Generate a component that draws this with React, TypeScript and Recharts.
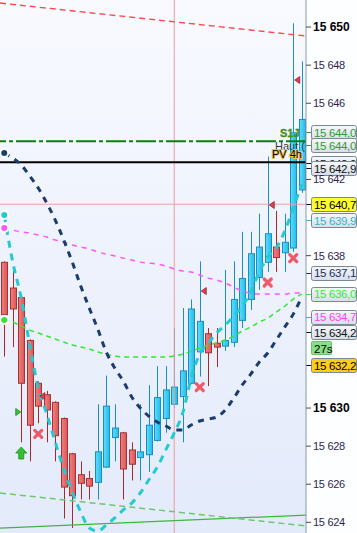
import React from 'react';
import { ComposedChart, Bar, Line, XAxis, YAxis, ReferenceLine, ReferenceDot, CartesianGrid } from 'recharts';

const W = 357;
const H = 533;
const FONT = '"Liberation Sans", Arial, sans-serif';

// candles, oldest first
const opens = [
  15637.65, 15636.3, 15635.8, 15633.55, 15631.3, 15630.7, 15630.3, 15629.45, 15627.6, 15626.5,
  15626.3, 15626.1, 15626.9, 15628.45, 15628.7, 15627.8, 15627.4, 15627.55, 15628.3, 15629.45,
  15630.2, 15630.6, 15631.3, 15632.95, 15633.9, 15633.4, 15633.25, 15633.45, 15634.6, 15635.7,
  15636.85, 15637.65, 15638.45, 15638.15, 15638.4, 15641.45,
];
const highs = [
  15637.7, 15637.2, 15635.85, 15633.6, 15631.4, 15630.9, 15630.35, 15629.5, 15627.65, 15627.2,
  15626.7, 15630.2, 15631.7, 15630.2, 15628.75, 15628.2, 15630.2, 15631.2, 15632.2, 15632.2,
  15634.2, 15635.25, 15635.7, 15637.7, 15634.2, 15634.2, 15637.25, 15637.7, 15639.25, 15639.25,
  15640.2, 15643.2, 15640.35, 15640.2, 15650.2, 15648.2,
];
const lows = [
  15632.7, 15633.2, 15628.2, 15627.2, 15629.2, 15628.2, 15627.2, 15624.2, 15623.7, 15625.2,
  15625.2, 15625.2, 15626.85, 15627.2, 15625.2, 15626.2, 15626.2, 15626.65, 15628.25, 15628.7,
  15630.0, 15628.2, 15631.25, 15631.65, 15631.15, 15632.15, 15633.0, 15633.2, 15634.2, 15635.15,
  15636.2, 15637.15, 15637.15, 15637.15, 15638.2, 15641.3,
];
const closes = [
  15634.9, 15635.2, 15631.3, 15629.1, 15630.1, 15629.9, 15628.55, 15625.85, 15625.4, 15626.05,
  15625.9, 15627.7, 15630.1, 15628.95, 15626.8, 15627.05, 15627.7, 15629.1, 15630.55, 15630.95,
  15631.1, 15631.95, 15635.2, 15634.55, 15632.9, 15633.2, 15633.55, 15635.7, 15636.8, 15638.1,
  15638.45, 15639.15, 15637.9, 15638.7, 15644.45, 15645.15,
];

// moving averages
const maNavy = [
  15643.39, 15643.12, 15642.76, 15642.18, 15641.55, 15640.76, 15639.87, 15638.82, 15637.66, 15636.4,
  15635.25, 15634.15, 15632.94, 15632.1, 15631.42, 15630.58, 15630.0, 15629.58, 15629.27, 15629.06,
  15628.85, 15628.85, 15629.11, 15629.32, 15629.42, 15629.53, 15629.9, 15630.52, 15631.21, 15631.78,
  15632.41, 15632.89, 15633.57, 15634.25, 15634.93, 15635.83,
];
const maCyan = [
  15640.13, 15637.66, 15635.77, 15633.31, 15631.05, 15629.69, 15628.21, 15626.8, 15625.59, 15624.54,
  15623.7, 15623.54, 15623.86, 15624.23, 15624.65, 15625.01, 15625.54, 15626.22, 15626.9, 15627.8,
  15628.69, 15629.74, 15631.57, 15632.84, 15633.41, 15633.94, 15634.36, 15634.83, 15635.35, 15636.09,
  15637.14, 15637.93, 15638.4, 15639.29, 15640.5, 15641.76,
];
const maMagenta = [
  15639.45, 15639.34, 15639.24, 15639.19, 15639.08, 15638.98, 15638.82, 15638.71, 15638.56, 15638.45,
  15638.35, 15638.19, 15638.08, 15637.98, 15637.87, 15637.77, 15637.66, 15637.61, 15637.56, 15637.45,
  15637.3, 15637.19, 15637.14, 15636.98, 15636.82, 15636.72, 15636.56, 15636.35, 15636.14, 15636.04,
  15635.98, 15635.98, 15635.98, 15635.98, 15636.04, 15636.04,
];
const maLime = [
  15634.62, 15634.51, 15634.3, 15634.09, 15633.94, 15633.78, 15633.62, 15633.46, 15633.31, 15633.2,
  15633.1, 15632.94, 15632.83, 15632.73, 15632.68, 15632.68, 15632.68, 15632.68, 15632.68, 15632.68,
  15632.73, 15632.83, 15632.99, 15633.15, 15633.31, 15633.41, 15633.57, 15633.78, 15634.04, 15634.25,
  15634.51, 15634.72, 15635.04, 15635.35, 15635.72, 15635.98,
];

const yTicks = [15624, 15626, 15628, 15630, 15638, 15642, 15646, 15648, 15650];
const boldTicks = [15630, 15650];

const levelS1 = 15644.0;
const levelPv = 15642.9;
const levelLast = 15640.7;
const sessionStart = 20;
const redTrend = [15651.26, 15649.53];
const greenTrend = [15623.7, 15624.38];
const greenDashTrend = [15625.54, 15623.81];

const crosses = [
  { i: 4, p: 15628.64 },
  { i: 23, p: 15631.1 },
  { i: 31, p: 15636.59 },
  { i: 34, p: 15637.87 },
];
const sellFlags = [
  { i: 4, p: 15630.63 },
  { i: 23, p: 15636.14 },
  { i: 31, p: 15640.66 },
  { i: 34, p: 15647.22 },
];
const buyFlags = [{ i: 2, p: 15629.79 }];
const buyArrows = [{ i: 2, p: 15627.64 }];

const priceTags = [
  { v: 15644.0, text: '15 644,0' },
  { v: 15644.0, text: '15 644,0' },
  { v: 15642.9, text: '15 642,9' },
  { v: 15642.9, text: '15 642,9' },
  { v: 15640.7, text: '15 640,7' },
  { v: 15639.9, text: '15 639,9' },
  { v: 15637.1, text: '15 637,1' },
  { v: 15636.0, text: '15 636,0' },
  { v: 15634.7, text: '15 634,7' },
  { v: 15634.2, text: '15 634,2' },
  { v: 15632.2, text: '15 632,2' },
];
const countdown = '27s';

// per-tag look: text colour, background, shift in px
const tagStyles = [
  { color: '#2f9e2f', bg: 'url(#tagBg)', dy: -9 },
  { color: '#2f9e2f', bg: 'url(#tagBg)', dy: 4 },
  { color: '#111', bg: 'url(#tagBg)', dy: 1 },
  { color: '#111', bg: 'url(#tagBg)', dy: 6 },
  { color: '#000', bg: '#ffff2e', dy: 0, tick: '#000' },
  { color: '#3ab3c9', bg: 'url(#tagBg)', dy: 1 },
  { color: '#1d2f5c', bg: 'url(#tagBg)', dy: 0 },
  { color: '#2cf02c', bg: 'url(#tagBg)', dy: 0 },
  { color: '#ff40ff', bg: 'url(#tagBg)', dy: -2 },
  { color: '#111', bg: 'url(#tagBg)', dy: 4 },
  { color: '#000', bg: '#ffcc1a', dy: -1, tick: '#000' },
];

const data = opens.map((o, i) => ({
  i,
  open: o,
  high: highs[i],
  low: lows[i],
  close: closes[i],
  navy: maNavy[i],
  cyan: maCyan[i],
  magenta: maMagenta[i],
  lime: maLime[i],
}));

const fmtTick = (v: number) => String(v).replace(/^(\d{2})(\d{3})$/, '$1 $2');

const Candle = (props: any) => {
  const { x, y, width, height, payload } = props;
  const { open, close, high, low } = payload;
  const up = close >= open;
  const top = Math.min(y, y + height);
  const h = Math.abs(height);
  const k = h / (high - low);
  const yOf = (v: number) => top + (high - v) * k;
  const wx = Math.floor(x + width / 2) + 0.5;
  const bTop = yOf(Math.max(open, close));
  const bBot = yOf(Math.min(open, close));
  const bx = Math.round(x) + 0.5;
  return (
    <g>
      <line x1={wx} x2={wx} y1={top} y2={top + h} stroke={up ? '#1a8ec4' : '#a52a2a'} strokeWidth={1} />
      <rect
        x={bx}
        y={bTop}
        width={width - 1}
        height={Math.max(1, bBot - bTop)}
        fill={up ? 'url(#upBody)' : 'url(#downBody)'}
        stroke={up ? '#1a8ec4' : '#a83232'}
        strokeWidth={1}
      />
    </g>
  );
};

const PriceTick = ({ x, y, payload }: any) => {
  const bold = boldTicks.includes(payload.value);
  return (
    <text
      x={x}
      y={y}
      dy={4}
      fontFamily={FONT}
      fontSize={bold ? 12 : 11}
      fontWeight={bold ? 700 : 400}
      letterSpacing={bold ? 0 : -0.3}
      fill={bold ? '#000' : '#2e1f4f'}
    >
      {fmtTick(payload.value)}
    </text>
  );
};

const tagLabel = (idx: number) => (props: any) => {
  const vb = props.viewBox || {};
  const st = tagStyles[idx];
  const tag = priceTags[idx];
  const x0 = vb.x + vb.width;
  const yy = vb.y + st.dy;
  return (
    <g>
      <line x1={x0} x2={x0 + 5} y1={Math.round(yy) + 0.5} y2={Math.round(yy) + 0.5} stroke={st.tick || st.color} />
      <rect x={x0 + 5.5} y={Math.round(yy) - 6.5} width={45} height={14} rx={2} fill={st.bg} stroke="#7b8794" />
      <text x={x0 + 8} y={yy + 4.5} fontFamily={FONT} fontSize={11.5} letterSpacing={-0.35} fill={st.color}>
        {tag.text}
      </text>
      {idx === 9 && (
        <g>
          <rect x={x0 + 5.5} y={Math.round(yy) + 9.5} width={20} height={13} rx={1} fill="#86e086" stroke="#6cbf6c" />
          <text x={x0 + 8} y={yy + 20.5} fontFamily={FONT} fontSize={11.5} fill="#000">
            {countdown}
          </text>
        </g>
      )}
    </g>
  );
};

const s1Label = (props: any) => {
  const vb = props.viewBox || {};
  const xr = vb.x + vb.width;
  return (
    <text x={xr - 26} y={vb.y - 4} fontFamily={FONT} fontSize={11} fontWeight={700} fill="#4f9f12" stroke="#2f6f0a" strokeWidth={0.3}>
      S1J
    </text>
  );
};

const pvLabel = (props: any) => {
  const vb = props.viewBox || {};
  const xr = vb.x + vb.width;
  return (
    <g fontFamily={FONT} fontSize={11}>
      <text x={xr - 31} y={vb.y - 12} fill="#3a3a3a">
        Haut (
      </text>
      <text x={xr - 34} y={vb.y - 4} fill="#000" stroke="#f0c050" strokeWidth={2} paintOrder="stroke">
        PV 4h
      </text>
    </g>
  );
};

const Cross = ({ cx, cy }: any) => (
  <g stroke="#f05a68" strokeWidth={3.2} strokeLinecap="round">
    <line x1={cx - 3.5} y1={cy - 3.5} x2={cx + 3.5} y2={cy + 3.5} />
    <line x1={cx - 3.5} y1={cy + 3.5} x2={cx + 3.5} y2={cy - 3.5} />
  </g>
);

const SellFlag = ({ cx, cy }: any) => (
  <path d={`M${cx + 1.5},${cy} L${cx + 6.5},${cy - 3.5} L${cx + 6.5},${cy + 3.5} Z`} fill="#e0404a" stroke="#a02030" strokeWidth={0.8} />
);

const BuyFlag = ({ cx, cy }: any) => (
  <path d={`M${cx - 0.5},${cy} L${cx - 5.5},${cy - 3.5} L${cx - 5.5},${cy + 3.5} Z`} fill="#33cc33" stroke="#208020" strokeWidth={0.8} />
);

const BuyArrow = ({ cx, cy }: any) => (
  <path
    d={`M${cx},${cy - 6} L${cx + 5.5},${cy} L${cx + 2.5},${cy} L${cx + 2.5},${cy + 6} L${cx - 2.5},${cy + 6} L${cx - 2.5},${cy} L${cx - 5.5},${cy} Z`}
    fill="#33c033"
    stroke="#1f8a1f"
    strokeWidth={0.8}
  />
);

export default function App() {
  return (
    <div style={{ position: 'absolute', left: 0, top: 0, width: W, height: H, background: '#fdfeff' }}>
      <ComposedChart width={W} height={H} data={data} margin={{ top: 0, right: 0, bottom: 0, left: 0 }}>
        <defs>
          <linearGradient id="plotBg" x1="0" y1="0" x2="0" y2="1">
            <stop offset="0%" stopColor="#f8faff" />
            <stop offset="100%" stopColor="#e3eafa" />
          </linearGradient>
          <linearGradient id="tagBg" x1="0" y1="0" x2="0" y2="1">
            <stop offset="0%" stopColor="#f6f8fb" />
            <stop offset="100%" stopColor="#d6dee8" />
          </linearGradient>
          <linearGradient id="upBody" x1="0" y1="0" x2="1" y2="0">
            <stop offset="0%" stopColor="#5fdcfa" />
            <stop offset="100%" stopColor="#22bde8" />
          </linearGradient>
          <linearGradient id="downBody" x1="0" y1="0" x2="1" y2="0">
            <stop offset="0%" stopColor="#f08080" />
            <stop offset="100%" stopColor="#dc5656" />
          </linearGradient>
        </defs>
        <CartesianGrid horizontal={false} vertical={false} fill="url(#plotBg)" />
        <XAxis dataKey="i" type="category" hide />
        <XAxis xAxisId="t" dataKey="i" type="number" domain={[-0.5, 35.5]} allowDataOverflow hide />
        <YAxis
          orientation="right"
          width={51}
          domain={[15623.44, 15651.42]}
          allowDataOverflow
          ticks={yTicks}
          interval={0}
          tick={<PriceTick />}
          tickSize={5}
          tickMargin={2}
          tickLine={{ stroke: '#4a4a5a' }}
          axisLine={{ stroke: '#8c9aa8' }}
        />

        <ReferenceLine xAxisId="t" x={sessionStart} stroke="#f29a9a" strokeWidth={1} />
        <ReferenceLine xAxisId="t" y={levelLast} stroke="#f2a0a0" strokeWidth={1} />
        <ReferenceLine
          xAxisId="t"
          segment={[{ x: -0.5, y: redTrend[0] }, { x: 35.5, y: redTrend[1] }]}
          stroke="#ff4848"
          strokeWidth={1.4}
          strokeDasharray="6 4"
        />
        <ReferenceLine
          xAxisId="t"
          segment={[{ x: -0.5, y: greenTrend[0] }, { x: 35.5, y: greenTrend[1] }]}
          stroke="#3cb83c"
          strokeWidth={1.2}
        />
        <ReferenceLine
          xAxisId="t"
          segment={[{ x: -0.5, y: greenDashTrend[0] }, { x: 35.5, y: greenDashTrend[1] }]}
          stroke="#6cc86c"
          strokeWidth={1.5}
          strokeDasharray="6 4"
        />
        <ReferenceLine xAxisId="t" y={levelS1} stroke="#0a820a" strokeWidth={2} strokeDasharray="20 3 4 3" label={s1Label} />
        <ReferenceLine xAxisId="t" y={levelPv} stroke="#000" strokeWidth={2} label={pvLabel} />

        <Bar dataKey={(d: any) => [d.low, d.high]} barSize={7} shape={<Candle />} isAnimationActive={false} />

        <Line type="monotone" dataKey="lime" stroke="#33e633" strokeWidth={1.5} strokeDasharray="5 4" dot={false} isAnimationActive={false} />
        <Line type="monotone" dataKey="magenta" stroke="#ff55ff" strokeWidth={1.5} strokeDasharray="5 5" dot={false} isAnimationActive={false} />
        <Line type="monotone" dataKey="navy" stroke="#1b3d6e" strokeWidth={3} strokeDasharray="6 6" dot={false} isAnimationActive={false} />
        <Line type="monotone" dataKey="cyan" stroke="#25c9d2" strokeWidth={3} strokeDasharray="7 6" dot={false} isAnimationActive={false} />

        {crosses.map((m, k) => (
          <ReferenceDot key={`x${k}`} xAxisId="t" x={m.i} y={m.p} shape={(p: any) => <Cross {...p} />} />
        ))}
        {sellFlags.map((m, k) => (
          <ReferenceDot key={`s${k}`} xAxisId="t" x={m.i} y={m.p} shape={(p: any) => <SellFlag {...p} />} />
        ))}
        {buyFlags.map((m, k) => (
          <ReferenceDot key={`b${k}`} xAxisId="t" x={m.i} y={m.p} shape={(p: any) => <BuyFlag {...p} />} />
        ))}
        {buyArrows.map((m, k) => (
          <ReferenceDot key={`a${k}`} xAxisId="t" x={m.i} y={m.p} shape={(p: any) => <BuyArrow {...p} />} />
        ))}

        {priceTags.map((t, k) => (
          <ReferenceLine key={`tag${k}`} xAxisId="t" y={t.v} stroke="none" label={tagLabel(k)} />
        ))}
      </ComposedChart>
    </div>
  );
}
